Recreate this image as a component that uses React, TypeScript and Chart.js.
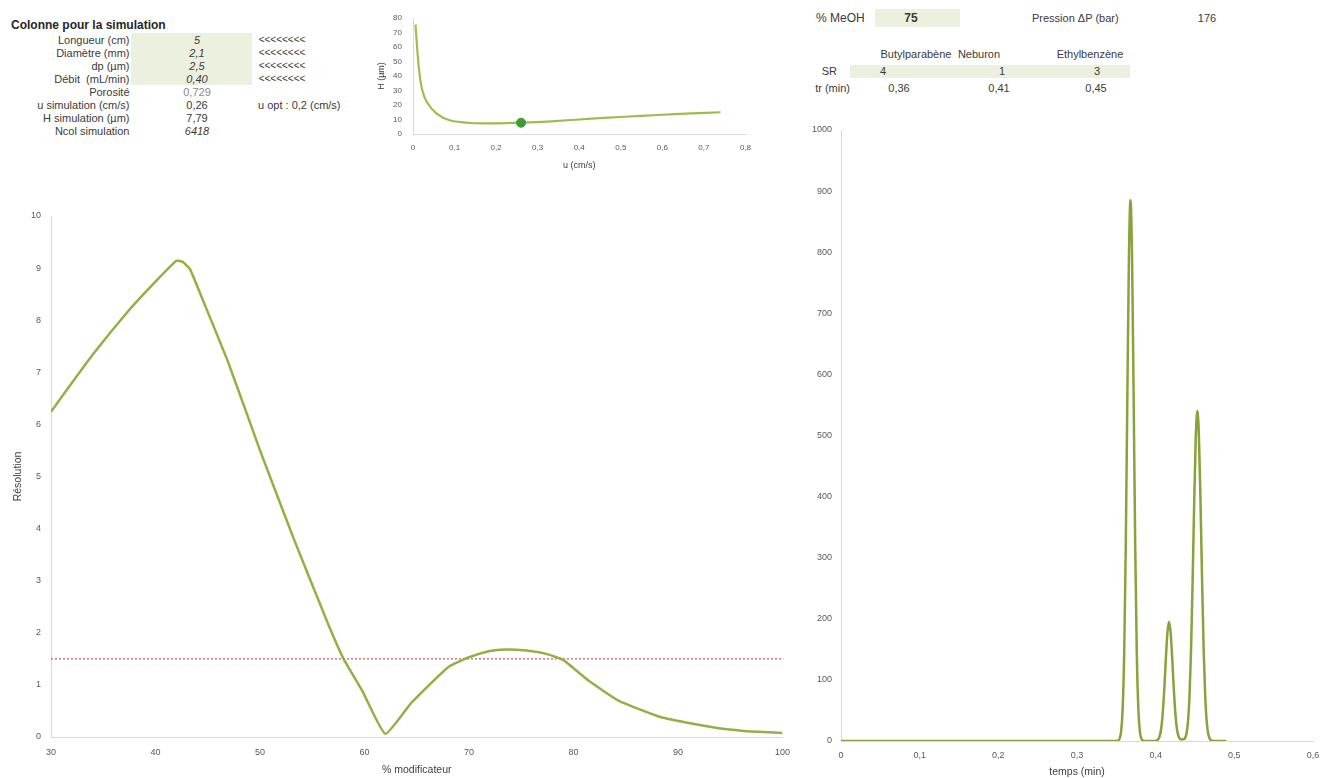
import React, { useEffect, useRef } from 'react';
import { Chart, registerables } from 'chart.js';

Chart.register(...registerables);

const FONT = "'Liberation Sans', Arial, sans-serif";

// ---------- Data: resolution vs % modifier ----------
const modifierPct = [30, 31, 34, 37.5, 40, 42, 42.6, 43.3, 44.4, 47, 50, 53.3, 56.5, 58, 59.8, 62, 64.5, 68, 70, 72, 73.5, 75.5, 77.3, 79, 81.4, 84.3, 88.4, 93.2, 96.3, 100];
const resolution = [6.24, 6.52, 7.34, 8.2, 8.74, 9.14, 9.12, 8.98, 8.45, 7.17, 5.5, 3.77, 2.18, 1.5, 0.88, 0.06, 0.66, 1.34, 1.53, 1.65, 1.68, 1.66, 1.6, 1.48, 1.09, 0.7, 0.38, 0.19, 0.115, 0.077];
const resolutionLimitX = [30, 100];
const resolutionLimitY = [1.5, 1.5];

// ---------- Data: Van Deemter curve ----------
const uVelocity = [0.006, 0.0136, 0.0216, 0.0336, 0.0576, 0.09, 0.14, 0.19, 0.26, 0.35, 0.43, 0.51, 0.59, 0.67, 0.74];
const plateHeight = [75.4, 46.9, 31.0, 21.9, 13.9, 9.3, 7.6, 7.3, 7.79, 9.1, 10.6, 11.9, 13.1, 14.2, 15.0];
const uSimulation = [0.26];
const hSimulation = [7.79];

// ---------- Data: chromatogram ----------
const chromTime = [0, 0.1, 0.2, 0.3, 0.34, 0.35, 0.352, 0.354, 0.356, 0.358, 0.36, 0.362, 0.364, 0.366, 0.368, 0.37, 0.372, 0.374, 0.376, 0.378, 0.38, 0.382, 0.384, 0.386, 0.39, 0.395, 0.399, 0.401, 0.403, 0.405, 0.407, 0.409, 0.411, 0.413, 0.415, 0.417, 0.419, 0.421, 0.423, 0.425, 0.427, 0.429, 0.431, 0.433, 0.435, 0.437, 0.439, 0.441, 0.443, 0.445, 0.447, 0.449, 0.451, 0.453, 0.455, 0.457, 0.459, 0.461, 0.463, 0.465, 0.467, 0.469, 0.471, 0.473, 0.475, 0.48, 0.49];
const chromSignal = [0, 0, 0, 0, 0, 0, 0.6, 3.4, 15, 52, 144, 319, 563, 790, 885, 790, 563, 319, 144, 52, 15, 3.4, 0.6, 0, 0, 0, 0.1, 0.6, 2.3, 7.5, 20, 46, 86, 136, 178, 195, 178, 136, 86, 46, 20, 8, 3.5, 2.5, 3, 4, 11, 30, 73, 150, 263, 392, 498, 540, 498, 392, 263, 150, 73, 30, 10.7, 3.2, 0.8, 0.2, 0, 0, 0];

// ---------- Table text ----------
const tableTitle = 'Colonne pour la simulation';
const columnLabels = ['Longueur (cm)', 'Diamètre (mm)', 'dp (µm)', 'Débit  (mL/min)', 'Porosité', 'u simulation (cm/s)', 'H simulation (µm)', 'Ncol simulation'];
const columnValues = ['5', '2,1', '2,5', '0,40', '0,729', '0,26', '7,79', '6418'];
const arrowsText = '<<<<<<<<';
const uOptText = 'u opt : 0,2 (cm/s)';
const compounds = ['Butylparabène', 'Neburon', 'Ethylbenzène'];
const srValues = ['4', '1', '3'];
const trValues = ['0,36', '0,41', '0,45'];
const meohLabel = '% MeOH';
const meohValue = '75';
const pressureLabel = 'Pression ΔP (bar)';
const pressureValue = '176';

// ---------- helpers ----------
const AXIS = '#d9d9d9';
const TICK = '#595959';
const comma = (v: number) => (Math.round(v * 100) / 100).toString().replace('.', ',');

function axis(o: any) {
  return {
    type: 'linear',
    min: o.min,
    max: o.max,
    grid: { display: false, drawTicks: false },
    border: { display: true, color: AXIS, width: 1 },
    ticks: {
      stepSize: o.step,
      padding: o.pad,
      color: TICK,
      font: { family: FONT, size: o.fontSize },
      callback: o.fmt || ((v: number) => String(v)),
      maxRotation: 0,
      autoSkip: false,
    },
    title: o.title
      ? { display: true, text: o.title, color: '#404040', font: { family: FONT, size: o.titleSize }, padding: o.titlePad }
      : { display: false },
    afterFit: (s: any) => {
      if (o.horizontal) s.height = o.size;
      else s.width = o.size;
    },
  };
}

const baseOptions = (padding: any, scales: any) => ({
  animation: false,
  responsive: false,
  devicePixelRatio: 1,
  layout: { padding },
  plugins: { legend: { display: false }, tooltip: { enabled: false } },
  scales,
});

function ChartBox({ left, top, width, height, make }: any) {
  const ref = useRef<HTMLCanvasElement>(null);
  useEffect(() => {
    const c = new Chart(ref.current as HTMLCanvasElement, make());
    return () => c.destroy();
  }, []);
  return <canvas ref={ref} width={width} height={height} style={{ position: 'absolute', left, top, width, height }} />;
}

function T({ x, y, text, align = 'left', size = 11, bold = false, italic = false, color = '#3a3a3a' }: any) {
  const tx = align === 'left' ? '0' : align === 'right' ? '-100%' : '-50%';
  return (
    <div
      style={{
        position: 'absolute', left: x, top: y - 8, height: 16, lineHeight: '16px',
        transform: `translateX(${tx})`, whiteSpace: 'pre', fontFamily: FONT, fontSize: size,
        fontWeight: bold ? 700 : 400, fontStyle: italic ? 'italic' : 'normal', color,
      }}
    >
      {text}
    </div>
  );
}

const resolutionConfig = () => ({
  type: 'line',
  data: {
    datasets: [
      {
        data: modifierPct.map((x, i) => ({ x, y: resolution[i] })),
        borderColor: '#93b045', borderWidth: 2.5, pointRadius: 0, tension: 0.15,
      },
      {
        data: resolutionLimitX.map((x, i) => ({ x, y: resolutionLimitY[i] })),
        borderColor: '#d2665c', borderWidth: 1.3, borderDash: [2, 2], pointRadius: 0,
      },
    ],
  },
  options: baseOptions({ top: 16, right: 15, left: 0, bottom: 0 }, {
    x: axis({ min: 30, max: 100, step: 10, pad: 10, fontSize: 9, horizontal: true, size: 41, title: '% modificateur', titleSize: 10.5, titlePad: { top: 0, bottom: 2 } }),
    y: axis({ min: 0, max: 10, step: 1, pad: 10, fontSize: 9, size: 51, title: 'Résolution', titleSize: 10.5, titlePad: { top: 12, bottom: 0 } }),
  }),
});

const vanDeemterConfig = () => ({
  type: 'line',
  data: {
    datasets: [
      {
        data: uSimulation.map((x, i) => ({ x, y: hSimulation[i] })),
        borderColor: '#3f9c33', backgroundColor: '#3f9c33', pointRadius: 4.5, showLine: false,
      },
      {
        data: uVelocity.map((x, i) => ({ x, y: plateHeight[i] })),
        borderColor: '#9dbd50', borderWidth: 2.2, pointRadius: 0, tension: 0.3,
      },
    ],
  },
  options: baseOptions({ top: 18, right: 13, left: 0, bottom: 0 }, {
    x: axis({ min: 0, max: 0.8, step: 0.1, pad: 9, fontSize: 8, horizontal: true, size: 46, fmt: comma, title: 'u (cm/s)', titleSize: 9, titlePad: { top: 0, bottom: 9 } }),
    y: axis({ min: 0, max: 80, step: 10, pad: 11, fontSize: 8, size: 53, title: 'H (µm)', titleSize: 9, titlePad: { top: 16, bottom: 0 } }),
  }),
});

const chromConfig = () => ({
  type: 'line',
  data: {
    datasets: [
      {
        data: chromTime.map((x, i) => ({ x, y: chromSignal[i] })),
        borderColor: '#88a33c', borderWidth: 2.5, pointRadius: 0, cubicInterpolationMode: 'monotone',
      },
    ],
  },
  options: baseOptions({ top: 15, right: 16, left: 0, bottom: 0 }, {
    x: axis({ min: 0, max: 0.6, step: 0.1, pad: 9, fontSize: 9, horizontal: true, size: 37, fmt: comma, title: 'temps (min)', titleSize: 10.5, titlePad: { top: 0, bottom: 0 } }),
    y: axis({ min: 0, max: 1000, step: 100, pad: 9, fontSize: 9, size: 51 }),
  }),
});

const rowY = [40, 53, 66, 79, 92, 105, 118, 131];
const valueStyle = [
  { italic: true }, { italic: true }, { italic: true }, { italic: true },
  { color: '#8a8a8a' }, {}, {}, { italic: true },
];
const compoundX = [916, 979, 1090];
const srX = [883, 1002, 1097];
const trX = [899, 999, 1096];

export default function App() {
  return (
    <div style={{ position: 'fixed', left: 0, top: 0, width: 1329, height: 778, background: '#fff', overflow: 'hidden' }}>
      {/* green input cells */}
      <div style={{ position: 'absolute', left: 131, top: 33, width: 121, height: 52, background: '#ebf1de' }} />
      <div style={{ position: 'absolute', left: 875, top: 9, width: 85, height: 18, background: '#ebf1de' }} />
      <div style={{ position: 'absolute', left: 850, top: 65, width: 280, height: 13, background: '#ebf1de' }} />

      <T x={11} y={25} text={tableTitle} bold size={12} color="#262626" />
      {columnLabels.map((l, i) => (
        <T key={'l' + i} x={129.5} y={rowY[i]} text={l} align="right" />
      ))}
      {columnValues.map((v, i) => (
        <T key={'v' + i} x={197} y={rowY[i]} text={v} align="center" {...valueStyle[i]} />
      ))}
      {[0, 1, 2, 3].map((i) => (
        <T key={'a' + i} x={282} y={rowY[i]} text={arrowsText} align="center" size={10} />
      ))}
      <T x={258} y={rowY[5]} text={uOptText} />

      <T x={816} y={18} text={meohLabel} size={12} />
      <T x={911} y={18} text={meohValue} align="center" bold size={12} />
      <T x={1032} y={18} text={pressureLabel} />
      <T x={1207} y={18} text={pressureValue} align="center" />
      {compounds.map((c, i) => (
        <T key={'c' + i} x={compoundX[i]} y={54} text={c} align="center" />
      ))}
      <T x={837} y={71} text="SR" align="right" />
      {srValues.map((v, i) => (
        <T key={'s' + i} x={srX[i]} y={71} text={v} align="center" />
      ))}
      <T x={850} y={88} text="tr (min)" align="right" />
      {trValues.map((v, i) => (
        <T key={'t' + i} x={trX[i]} y={88} text={v} align="center" />
      ))}

      <ChartBox left={360} top={0} width={400} height={180} make={vanDeemterConfig} />
      <ChartBox left={0} top={200} width={800} height={578} make={resolutionConfig} />
      <ChartBox left={790} top={115} width={539} height={663} make={chromConfig} />
    </div>
  );
}
